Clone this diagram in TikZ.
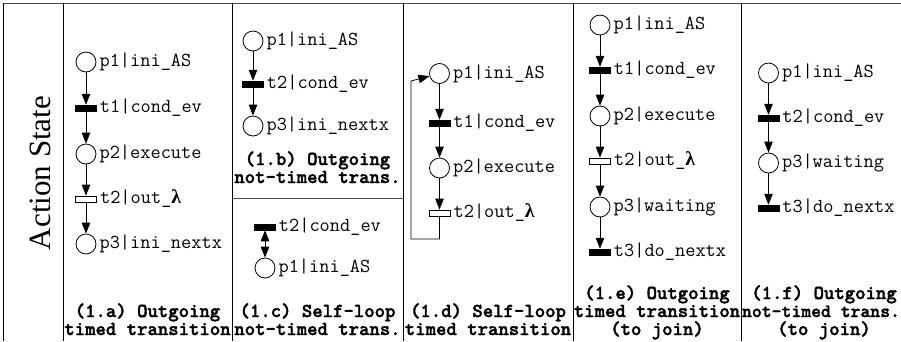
\documentclass[tikz,border=0pt]{standalone}
\usepackage{fontspec}
\setmainfont{Liberation Serif}
\newfontfamily\lamfont{Liberation Serif}
\newfontfamily\capfont{lmmonolt10-bold.otf}[FakeBold=1.8]
\usetikzlibrary{arrows.meta}

\newcommand{\lam}{{\lamfont\bfseries λ}}

\begin{document}
\begin{tikzpicture}[x=1pt,y=-1pt,
  label distance=3pt,
  place/.style={circle,draw,line width=0.8pt,minimum size=20pt,inner sep=0pt},
  tbar/.style={rectangle,fill=black,draw=black,line width=0.5pt,minimum width=21pt,minimum height=6pt,inner sep=0pt},
  wbar/.style={rectangle,fill=white,draw=black,line width=0.8pt,minimum width=21pt,minimum height=6pt,inner sep=0pt},
  lbl/.style={font=\ttfamily\fontsize{19.8pt}{19pt}\selectfont,inner sep=0pt},
  captext/.style={font=\capfont\fontsize{19.8pt}{18pt}\selectfont,inner sep=0pt,anchor=base},
  arc/.style={line width=0.8pt,-{Triangle[length=11pt,width=8.5pt]}},
  darc/.style={line width=0.8pt,{Triangle[length=11pt,width=8.5pt]}-{Triangle[length=11pt,width=8.5pt]}},
  rule/.style={line width=1pt,draw=black},
  thinrule/.style={line width=0.8pt,draw=black!70}
]
\useasboundingbox (0,0) rectangle (901,341);

% table frame
\draw[thinrule] (3,3) -- (901,3);
\draw[rule] (3,3) -- (3,341);
\foreach \cx in {63,232,403,573,741} \draw[rule] (\cx,3) -- (\cx,341);
\draw[thinrule] (232,198) -- (403,198);

% row title
\node[rotate=90,font=\fontsize{31pt}{31pt}\selectfont,inner sep=0pt] (title) at (40,173) {Action State};

% (1.a) outgoing timed transition
\node[place,label={[lbl]right:{p1|ini\_AS}}] (a1) at (86,62) {};
\node[tbar,label={[lbl]right:{t1|cond\_ev}}] (a2) at (86,108) {};
\node[place,label={[lbl]right:{p2|execute}}] (a3) at (86,154) {};
\node[wbar,label={[lbl]right:{t2|out\_\lam}}] (a4) at (86,199) {};
\node[place,label={[lbl]right:{p3|ini\_nextx}}] (a5) at (86,244) {};
\draw[arc] (a1) -- (a2);
\draw[arc] (a2) -- (a3);
\draw[arc] (a3) -- (a4);
\draw[arc] (a4) -- (a5);
\node[captext] (capa1) at (147.5,317) {(1.a) Outgoing};
\node[captext] (capa2) at (147.5,335) {timed transition};

% (1.b) outgoing not-timed transition
\node[place,label={[lbl]right:{p1|ini\_AS}}] (b1) at (253,41) {};
\node[tbar,label={[lbl]right:{t2|cond\_ev}}] (b2) at (253,84) {};
\node[place,label={[lbl]right:{p3|ini\_nextx}}] (b3) at (253,126) {};
\draw[arc] (b1) -- (b2);
\draw[arc] (b2) -- (b3);
\node[captext] (capb1) at (317.5,165) {(1.b) Outgoing};
\node[captext] (capb2) at (317.5,183) {not-timed trans.};

% (1.c) self-loop not-timed transition
\node[tbar,label={[lbl]right:{t2|cond\_ev}}] (c1) at (265,227) {};
\node[place,label={[lbl]right:{p1|ini\_AS}}] (c2) at (265,268) {};
\draw[darc] (c1) -- (c2);
\node[captext] (capc1) at (317.5,317) {(1.c) Self-loop};
\node[captext] (capc2) at (317.5,335) {not-timed trans.};

% (1.d) self-loop timed transition
\node[place,label={[lbl]right:{p1|ini\_AS}}] (d1) at (439.5,73.5) {};
\node[tbar,label={[lbl]right:{t1|cond\_ev}}] (d2) at (439.5,123) {};
\node[place,label={[lbl]right:{p2|execute}}] (d3) at (439.5,168) {};
\node[wbar,label={[lbl]right:{t2|out\_\lam}}] (d4) at (439.5,213) {};
\coordinate (dl1) at (411,239);
\coordinate (dl2) at (411,81);
\draw[arc] (d1) -- (d2);
\draw[arc] (d2) -- (d3);
\draw[arc] (d3) -- (d4);
\draw[arc] (d4.south) |- (dl1) -- (dl2) -- (d1);
\node[captext] (capd1) at (488,317) {(1.d) Self-loop};
\node[captext] (capd2) at (488,335) {timed transition};

% (1.e) outgoing timed transition (to join)
\node[place,label={[lbl]right:{p1|ini\_AS}}] (e1) at (600,25) {};
\node[tbar,label={[lbl]right:{t1|cond\_ev}}] (e2) at (600,70) {};
\node[place,label={[lbl]right:{p2|execute}}] (e3) at (600,116) {};
\node[wbar,label={[lbl]right:{t2|out\_\lam}}] (e4) at (600,161) {};
\node[place,label={[lbl]right:{p3|waiting}}] (e5) at (600,207) {};
\node[tbar,label={[lbl]right:{t3|do\_nextx}}] (e6) at (600,252) {};
\draw[arc] (e1) -- (e2);
\draw[arc] (e2) -- (e3);
\draw[arc] (e3) -- (e4);
\draw[arc] (e4) -- (e5);
\draw[arc] (e5) -- (e6);
\node[captext] (cape1) at (657,299) {(1.e) Outgoing};
\node[captext] (cape2) at (657,317) {timed transition};
\node[captext] (cape3) at (657,335) {(to join)};

% (1.f) outgoing not-timed transition (to join)
\node[place,label={[lbl]right:{p1|ini\_AS}}] (f1) at (768.5,73) {};
\node[tbar,label={[lbl]right:{t2|cond\_ev}}] (f2) at (768.5,118) {};
\node[place,label={[lbl]right:{p3|waiting}}] (f3) at (768.5,163) {};
\node[tbar,label={[lbl]right:{t3|do\_nextx}}] (f4) at (768.5,208) {};
\draw[arc] (f1) -- (f2);
\draw[arc] (f2) -- (f3);
\draw[arc] (f3) -- (f4);
\node[captext] (capf1) at (824,299) {(1.f) Outgoing};
\node[captext,font=\capfont\fontsize{18.8pt}{18pt}\selectfont] (capf2) at (821,317) {not-timed trans.};
\node[captext] (capf3) at (824,335) {(to join)};
\end{tikzpicture}
\end{document}
